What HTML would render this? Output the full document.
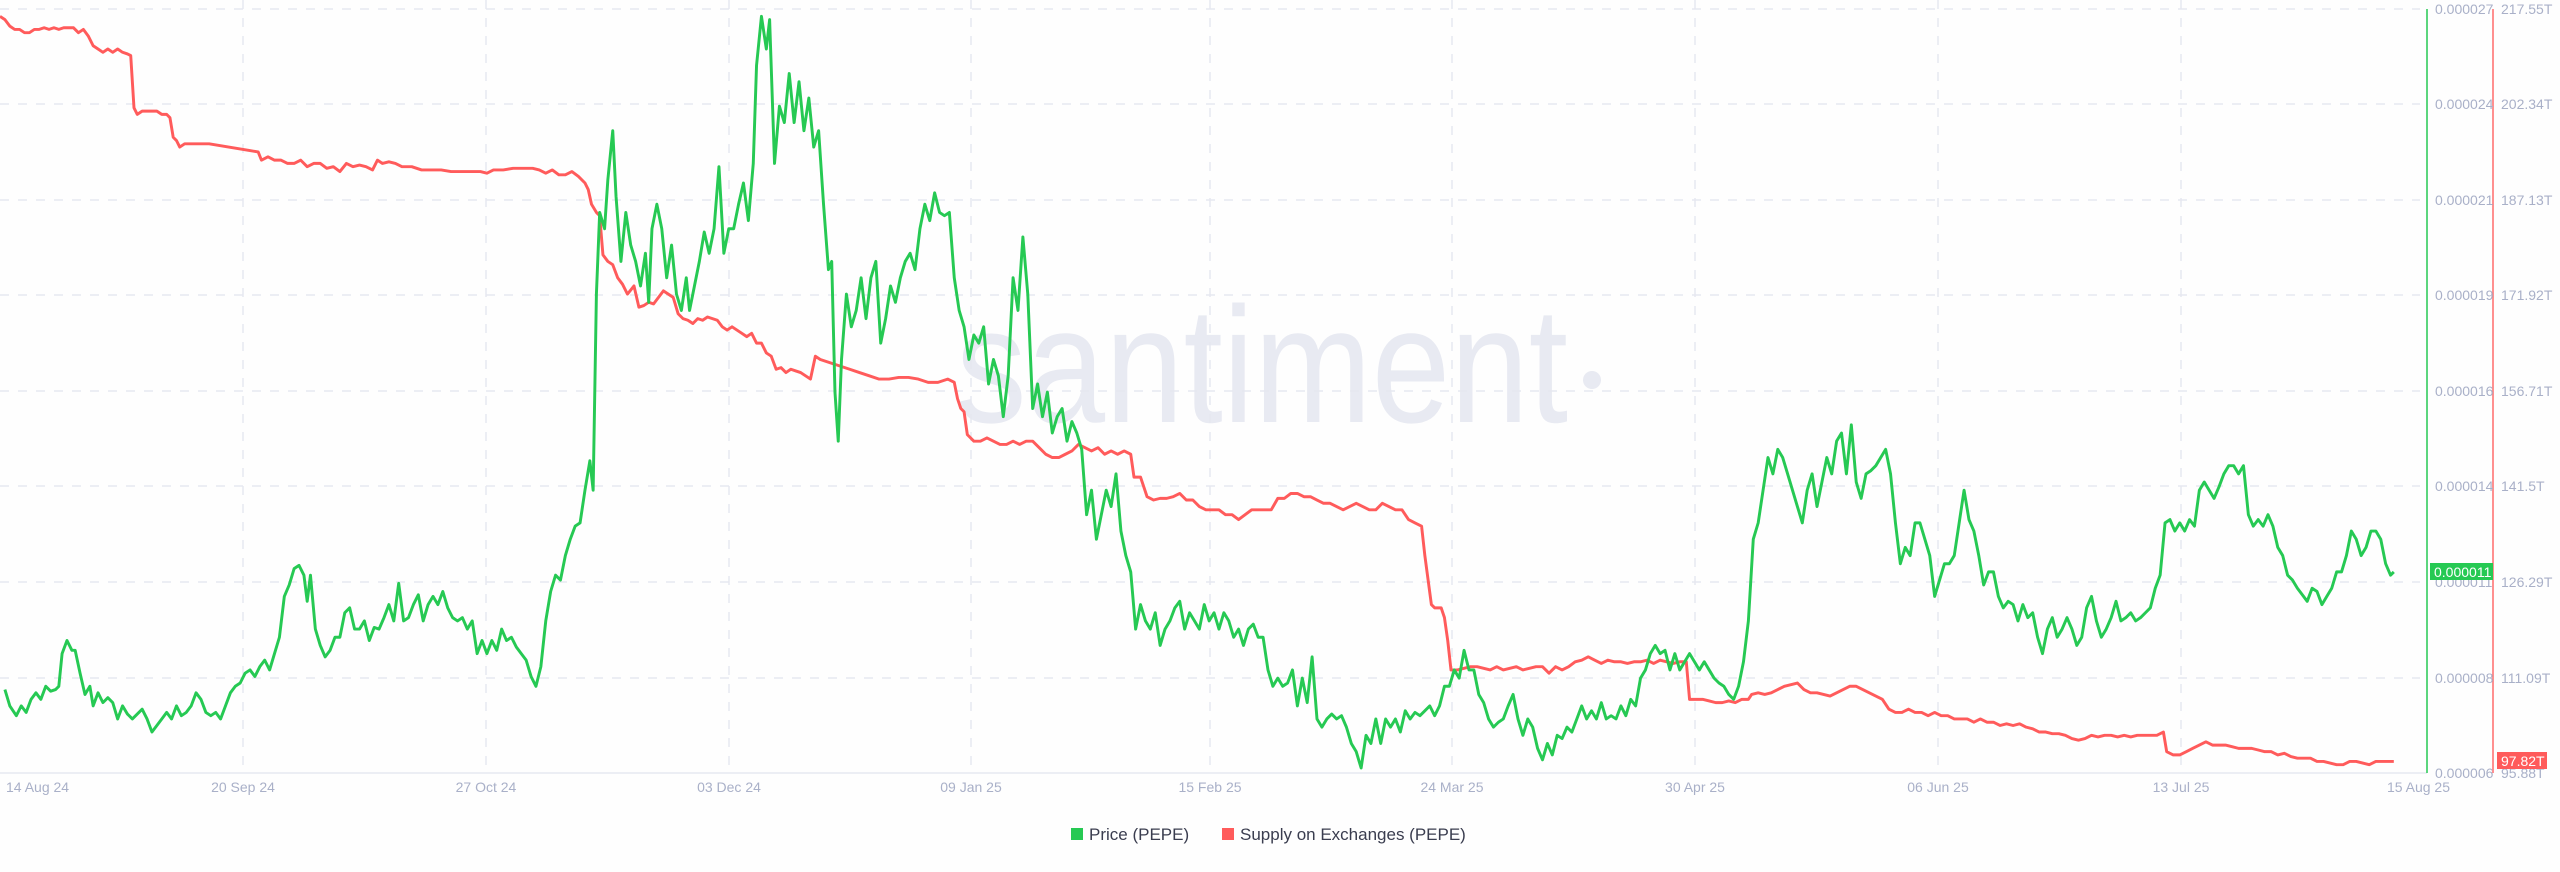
<!DOCTYPE html>
<html><head><meta charset="utf-8"><style>
html,body{margin:0;padding:0;background:#fefefe;}
body{width:2560px;height:867px;overflow:hidden;font-family:"Liberation Sans",sans-serif;}
</style></head><body>
<svg width="2560" height="867" viewBox="0 0 2560 867" xmlns="http://www.w3.org/2000/svg">
<rect width="2560" height="867" fill="#fefefe"/>
<text x="956" y="422" font-family="Liberation Sans, sans-serif" font-size="165" fill="#e8eaf2" textLength="612" lengthAdjust="spacingAndGlyphs">santiment</text>
<circle cx="1592" cy="380" r="9" fill="#e8eaf2"/>
<g stroke="#e6e8f0" stroke-width="1.5" stroke-dasharray="9 9">
<line x1="0" y1="9" x2="2420" y2="9"/><line x1="0" y1="104" x2="2420" y2="104"/><line x1="0" y1="200" x2="2420" y2="200"/><line x1="0" y1="295" x2="2420" y2="295"/><line x1="0" y1="391" x2="2420" y2="391"/><line x1="0" y1="486" x2="2420" y2="486"/><line x1="0" y1="582" x2="2420" y2="582"/><line x1="0" y1="678" x2="2420" y2="678"/>
<line x1="243" y1="0" x2="243" y2="773"/><line x1="486" y1="0" x2="486" y2="773"/><line x1="729" y1="0" x2="729" y2="773"/><line x1="971" y1="0" x2="971" y2="773"/><line x1="1210" y1="0" x2="1210" y2="773"/><line x1="1452" y1="0" x2="1452" y2="773"/><line x1="1695" y1="0" x2="1695" y2="773"/><line x1="1938" y1="0" x2="1938" y2="773"/><line x1="2181" y1="0" x2="2181" y2="773"/>
</g>
<line x1="0" y1="773" x2="2427" y2="773" stroke="#e6e8f0" stroke-width="1.5"/>
<line x1="2427" y1="9" x2="2427" y2="773" stroke="#26c953" stroke-width="1.5"/>
<line x1="2493" y1="9" x2="2493" y2="773" stroke="#ff6b6b" stroke-width="1.5"/>
<g font-size="14" fill="#a9b0c8">
<text x="2435" y="14">0.000027</text><text x="2435" y="109">0.000024</text><text x="2435" y="205">0.000021</text><text x="2435" y="300">0.000019</text><text x="2435" y="396">0.000016</text><text x="2435" y="491">0.000014</text><text x="2435" y="587">0.000011</text><text x="2435" y="683">0.000008</text><text x="2435" y="778">0.000006</text>
<text x="2501" y="14">217.55T</text><text x="2501" y="109">202.34T</text><text x="2501" y="205">187.13T</text><text x="2501" y="300">171.92T</text><text x="2501" y="396">156.71T</text><text x="2501" y="491">141.5T</text><text x="2501" y="587">126.29T</text><text x="2501" y="683">111.09T</text><text x="2501" y="778">95.88T</text>
</g>
<g font-size="14" fill="#a9b0c8">
<text x="6" y="792">14 Aug 24</text><text x="243" y="792" text-anchor="middle">20 Sep 24</text><text x="486" y="792" text-anchor="middle">27 Oct 24</text><text x="729" y="792" text-anchor="middle">03 Dec 24</text><text x="971" y="792" text-anchor="middle">09 Jan 25</text><text x="1210" y="792" text-anchor="middle">15 Feb 25</text><text x="1452" y="792" text-anchor="middle">24 Mar 25</text><text x="1695" y="792" text-anchor="middle">30 Apr 25</text><text x="1938" y="792" text-anchor="middle">06 Jun 25</text><text x="2181" y="792" text-anchor="middle">13 Jul 25</text><text x="2450" y="792" text-anchor="end">15 Aug 25</text>
</g>
<g transform="scale(1.634)" fill="none" stroke-linejoin="round">
<polyline stroke="#ff5b5b" stroke-width="1.8" points="0,10 3,12 6,16 9,18 12,18 15,20 18,20 21,18 24,18 27,17 30,18 33,17 36,18 39,17 42,17 45,17 48,20 51,18 54,22 57,28 60,30 63,32 66,30 69,32 72,30 75,32 78,33 80,34 82,66 84,70 87,68 90,68 93,68 96,68 99,70 102,70 104,72 106,84 108,86 110,90 113,88 116,88 119,88 122,88 128,88 134,89 140,90 146,91 152,92 158,93 160,98 164,96 168,98 172,98 176,100 180,100 184,98 188,102 192,100 196,100 200,103 204,102 208,105 212,100 216,102 220,101 224,102 228,104 231,98 234,100 238,99 242,100 246,102 252,102 258,104 264,104 270,104 276,105 282,105 288,105 294,105 298,106 302,104 308,104 314,103 320,103 326,103 330,104 334,106 338,104 342,107 346,107 350,105 354,108 358,112 360,116 362,125 365,130 367,132 369,156 372,160 375,162 378,170 381,174 384,180 388,175 391,188 394,187 397,185 400,186 403,182 406,178 409,180 412,182 415,192 418,195 421,196 424,198 427,195 430,196 433,194 436,195 439,196 442,200 445,202 448,200 451,202 454,204 457,206 460,204 463,210 466,210 469,216 472,218 475,226 478,225 481,228 484,226 487,227 490,228 493,230 496,232 499,218 502,220 508,222 514,224 520,226 526,228 532,230 538,232 544,232 550,231 556,231 562,232 568,234 574,234 580,232 584,234 586,244 588,250 590,252 592,266 596,270 600,270 604,268 608,270 612,272 616,272 620,270 624,272 628,270 632,270 636,274 640,278 644,280 648,280 652,278 656,276 660,272 664,274 668,276 672,274 676,278 680,276 684,278 688,276 692,278 694,292 698,292 702,304 706,306 710,305 714,305 718,304 722,302 726,306 730,306 734,310 738,312 742,312 746,312 750,315 754,315 758,318 762,315 766,312 770,312 774,312 778,312 782,305 786,305 790,302 794,302 798,304 802,304 806,306 810,308 814,308 818,310 822,312 826,310 830,308 834,310 838,312 842,312 846,308 850,310 854,312 858,312 862,318 866,320 870,322 872,340 874,355 876,370 878,372 882,372 884,378 886,392 888,410 892,410 896,409 900,408 904,408 908,409 912,410 916,408 920,410 924,409 928,408 932,410 936,409 940,408 944,408 948,412 952,408 956,410 960,408 964,405 968,404 972,402 976,404 980,406 984,404 988,405 992,405 996,406 1000,405 1004,405 1008,404 1012,406 1016,404 1020,405 1024,406 1028,405 1032,405 1034,428 1038,428 1042,428 1046,429 1050,430 1054,430 1058,429 1062,430 1066,428 1070,428 1072,425 1076,424 1080,425 1084,424 1088,422 1092,420 1096,419 1100,418 1104,422 1108,424 1112,424 1116,425 1120,426 1124,424 1128,422 1132,420 1136,420 1140,422 1144,424 1148,426 1152,428 1156,434 1160,436 1164,436 1168,434 1172,436 1176,436 1180,438 1184,436 1188,438 1192,438 1196,440 1200,440 1204,440 1208,442 1212,440 1216,442 1220,442 1224,444 1228,443 1232,444 1236,443 1240,445 1244,446 1248,448 1252,448 1256,449 1260,449 1264,450 1268,452 1272,453 1276,452 1280,450 1284,451 1288,450 1292,450 1296,451 1300,450 1304,451 1308,450 1312,450 1316,450 1320,450 1324,448 1326,460 1330,462 1334,462 1338,460 1342,458 1346,456 1350,454 1354,456 1358,456 1362,456 1366,457 1370,458 1374,458 1378,458 1382,459 1386,460 1390,460 1394,462 1398,461 1402,463 1406,464 1410,464 1414,464 1418,466 1422,466 1426,467 1430,468 1434,468 1438,466 1442,466 1446,467 1450,468 1454,466 1458,466 1462,466 1465,466"/>
<polyline stroke="#26c953" stroke-width="1.8" points="3,422 6,432 10,438 13,432 16,436 19,428 22,424 25,428 28,420 31,423 34,422 36,420 38,400 41,392 44,398 46,398 49,412 52,425 55,420 57,432 60,424 63,430 66,427 69,430 72,440 75,432 78,437 81,440 84,437 87,434 90,440 93,448 96,444 99,440 102,436 105,440 108,432 111,438 114,436 117,432 120,424 123,428 126,436 129,438 132,436 135,440 138,432 141,424 144,420 147,418 150,412 153,410 156,414 159,408 162,404 165,410 168,400 171,390 174,365 177,358 180,348 183,346 186,352 188,368 190,352 193,385 196,395 199,402 202,398 205,390 208,390 211,375 214,372 217,385 220,385 223,380 226,392 229,384 232,385 235,378 238,370 241,380 244,357 247,380 250,378 253,370 256,364 259,380 262,370 265,365 268,370 271,362 274,372 277,378 280,380 283,378 286,385 289,380 292,400 295,392 298,400 301,392 304,398 307,385 310,392 313,390 316,396 319,400 322,404 325,414 328,420 331,408 334,380 337,362 340,352 343,355 346,340 349,330 352,322 355,320 358,300 361,282 363,300 365,180 367,130 370,140 372,110 375,80 377,120 380,160 383,130 386,150 389,160 392,175 395,155 397,185 399,140 402,125 405,140 408,170 411,150 414,180 417,190 420,170 422,190 425,175 428,160 431,142 434,155 437,140 440,102 443,155 446,140 449,140 452,125 455,112 458,135 461,100 463,40 466,10 469,30 471,12 474,100 477,65 480,75 483,45 486,75 489,50 492,80 495,60 498,90 501,80 504,125 507,165 509,160 511,240 513,270 515,220 518,180 521,200 524,190 527,170 530,195 533,170 536,160 539,210 542,195 545,175 548,185 551,170 554,160 557,155 560,165 563,140 566,125 569,135 572,118 575,130 578,132 581,130 584,170 587,190 590,200 593,220 596,205 599,210 602,200 605,235 608,220 611,230 614,255 617,230 620,170 623,190 626,145 629,180 632,250 635,235 638,255 641,240 644,265 647,255 650,250 653,270 656,258 659,265 662,275 665,315 668,300 671,330 674,315 677,300 680,310 683,290 686,325 689,340 692,350 695,385 698,370 701,380 704,385 707,375 710,395 713,385 716,380 719,372 722,368 725,385 728,375 731,380 734,385 737,370 740,380 743,375 746,385 749,375 752,380 755,390 758,385 761,395 764,385 767,382 770,390 773,390 776,410 779,420 782,415 785,420 788,418 791,410 794,432 797,415 800,430 803,402 806,440 809,445 812,440 815,437 818,440 821,438 824,445 827,455 830,460 833,470 836,450 839,455 842,440 845,455 848,440 851,445 854,440 857,448 860,435 863,440 866,436 869,438 872,435 875,432 878,438 881,432 884,420 887,420 890,410 893,415 896,398 899,410 902,410 905,425 908,430 911,440 914,445 917,442 920,440 923,432 926,425 929,440 932,450 935,440 938,445 941,458 944,465 947,455 950,462 953,450 956,452 959,445 962,448 965,440 968,432 971,440 974,435 977,440 980,430 983,440 986,438 989,440 992,432 995,438 998,428 1001,432 1004,415 1007,410 1010,400 1013,395 1016,400 1019,398 1022,410 1025,400 1028,410 1031,405 1034,400 1037,405 1040,410 1043,405 1046,410 1049,415 1052,418 1055,420 1058,425 1061,428 1064,420 1067,405 1070,380 1073,330 1076,320 1079,300 1082,280 1085,290 1088,275 1091,280 1094,290 1097,300 1100,310 1103,320 1106,300 1109,290 1112,310 1115,295 1118,280 1121,290 1124,270 1127,265 1130,290 1133,260 1136,295 1139,305 1142,290 1145,288 1148,285 1151,280 1154,275 1157,290 1160,320 1163,345 1166,335 1169,340 1172,320 1175,320 1178,330 1181,340 1184,365 1187,355 1190,345 1193,345 1196,340 1199,320 1202,300 1205,318 1208,325 1211,340 1214,358 1217,350 1220,350 1223,365 1226,372 1229,368 1232,370 1235,380 1238,370 1241,378 1244,375 1247,390 1250,400 1253,385 1256,378 1259,390 1262,385 1265,378 1268,385 1271,395 1274,390 1277,372 1280,365 1283,380 1286,390 1289,385 1292,378 1295,368 1298,380 1301,378 1304,375 1307,380 1310,378 1313,375 1316,372 1319,360 1322,352 1325,320 1328,318 1331,325 1334,320 1337,325 1340,318 1343,322 1346,300 1349,295 1352,300 1355,305 1358,298 1361,290 1364,285 1367,285 1370,290 1373,285 1376,315 1379,322 1382,318 1385,322 1388,315 1391,322 1394,335 1397,340 1400,352 1403,355 1406,360 1409,364 1412,368 1415,360 1418,362 1421,370 1424,365 1427,360 1430,350 1433,350 1436,340 1439,325 1442,330 1445,340 1448,335 1451,325 1454,325 1457,330 1460,345 1463,352 1465,350"/>
</g>
<rect x="2430" y="563" width="63" height="17" fill="#26c953"/>
<text x="2434" y="577" font-size="14" fill="#ffffff">0.000011</text>
<rect x="2497" y="752" width="50" height="17" fill="#ff5b5b"/>
<text x="2501" y="766" font-size="14" fill="#ffffff">97.82T</text>
<rect x="1071" y="828" width="12" height="12" fill="#26c953"/>
<text x="1089" y="840" font-size="17" fill="#3a3d4f">Price (PEPE)</text>
<rect x="1222" y="828" width="12" height="12" fill="#ff5b5b"/>
<text x="1240" y="840" font-size="17" fill="#3a3d4f">Supply on Exchanges (PEPE)</text>
</svg>
</body></html>
